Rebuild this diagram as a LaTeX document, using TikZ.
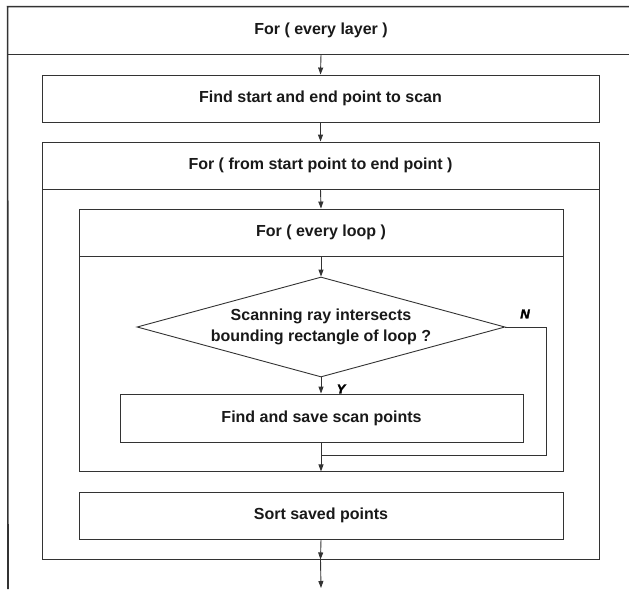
\documentclass[tikz,border=0pt]{standalone}
\usepackage{fontspec}
\setmainfont{Liberation Sans}
\newfontfamily\answerfont[FakeBold=2.5]{Liberation Sans}
\usetikzlibrary{shapes.geometric,arrows.meta}

\begin{document}
\begin{tikzpicture}[x=1pt, y=-1pt,
                    line width=0.9pt,
                    draw=black!80,
                    font=\bfseries\fontsize{16}{21}\selectfont,
                    text=black!90]
    \tikzstyle{block}=[rectangle,draw=black!80,inner sep=0pt,minimum width=484,minimum height=47]
    \tikzstyle{head}=[block, minimum width=557];
    \tikzstyle{outerhead}=[block, draw=none, minimum width=626];
    \tikzstyle{decision}=[diamond,draw=black!80,aspect=3.68,inner sep=0pt,minimum width=368,minimum height=100,align=center];
    \tikzstyle{flow}=[draw=black!80,-{Triangle[width=5pt,length=7pt]}];
    \tikzstyle{answer}=[font=\answerfont\bfseries\itshape\fontsize{13}{13}\selectfont,text=black,inner sep=0pt];

    \useasboundingbox (0,0) rectangle (629,589);

    % outer loop
    \node[outerhead] (layer) at (321,30.5) {For ( every layer )};
    \coordinate (layerend) at (8,589);
    \draw[line width=1.6pt] (layer.north east) -- (layer.north west) -- (layerend);
    \draw (layer.south west) -- (layer.south east);

    \node[head] (startend) at (320.5,98.5) {Find start and end point to scan};

    % scan loop
    \node[head] (scanloop) at (320.5,165.5) {For ( from start point to end point )};
    \node[head, minimum height=370] (scanbody) at (320.5,374) {};

    % loop over loops
    \node[block] (looploop) at (321,232.5) {For ( every loop )};
    \node[block, minimum height=215] (loopbody) at (321,363.5) {};

    \node[decision] (test) at (321,327) {Scanning ray intersects\\bounding rectangle of loop ?};
    \node[block, minimum width=403, minimum height=48] (save) at (321.5,418) {Find and save scan points};
    \node[block] (sort) at (321,515.5) {Sort saved points};

    \coordinate (back) at (546,455);
    \coordinate (exit) at (321,588);

    \draw[flow] (layer.south) -- (startend.north);
    \draw[flow] (startend.south) -- (scanloop.north);
    \draw[flow] (scanloop.south) -- (looploop.north);
    \draw[flow] (looploop.south) -- (test.north);
    \draw[flow] (test.south) -- (save.north -| test.south);
    \draw[flow] (save.south -| test.south) -- (loopbody.south);
    \draw (test.east) -| (back) -- (back -| test.south);
    \draw[flow] (sort.south) -- (scanbody.south);
    \draw[flow] (scanbody.south) -- (exit);

    \node[answer] at (525,314) {N};
    \node[answer] at (341,389) {Y};
\end{tikzpicture}
\end{document}
